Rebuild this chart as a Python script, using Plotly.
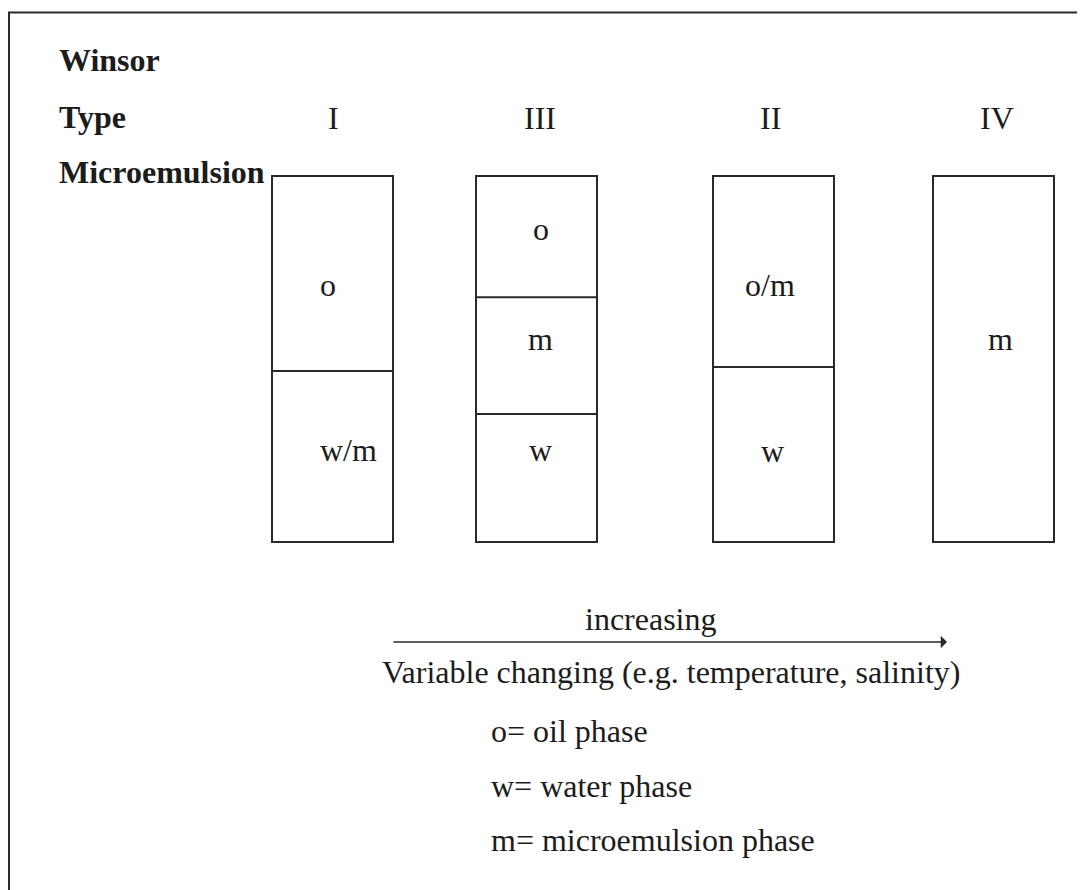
import plotly.graph_objects as go

# ---------------- data ----------------
winsor_types = ["I", "III", "II", "IV"]
row_labels = ["Winsor", "Type", "Microemulsion"]
# phases listed top -> bottom for each tube
phase_labels = [["o", "w/m"], ["o", "m", "w"], ["o/m", "w"], ["m"]]
# interface levels, fraction of tube height measured from the bottom
interface_levels = [[0.467], [0.669, 0.350], [0.478], []]
# label levels (fraction of tube height from bottom), top -> bottom
label_levels = [[0.694, 0.243], [0.847, 0.544, 0.243], [0.694, 0.238], [0.544]]
# label horizontal position, fraction of tube width
label_xfrac = [[0.459, 0.631], [0.537, 0.537, 0.537], [0.475, 0.49], [0.554]]
arrow_top_text = "increasing"
arrow_bottom_text = "Variable changing (e.g. temperature, salinity)"
legend_lines = ["o= oil phase", "w= water phase", "m= microemulsion phase"]

# ---------------- layout constants (page pixels) ----------------
W, H = 1085, 890
PAGE_MARGIN = 8  # default body margin of the html page
tube_left = [272, 476, 713, 933]
tube_width = 121
tube_top, tube_bottom = 176, 542
tube_h = tube_bottom - tube_top
type_label_x = [333, 540, 770, 997]
FONT = "Liberation Serif, Times New Roman, serif"
FS = 32
INK = "#1c1c1c"
LINE = "#2a2a2a"

fig = go.Figure()
fig.add_trace(go.Scatter(x=[PAGE_MARGIN, W], y=[PAGE_MARGIN, H], mode="markers",
                         marker=dict(opacity=0), hoverinfo="skip", showlegend=False))

shapes = []
annotations = []

# outer frame (left and top edges)
shapes.append(dict(type="path", path=f"M 9 {H + 5} L 9 12.5 L 1090 12.5",
                   xref="x", yref="y", line=dict(color=LINE, width=2)))

# row labels
for lab, yy in zip(row_labels, [60, 117, 172]):
    annotations.append(dict(x=57, y=yy, xref="x", yref="y", text=f"<b>{lab}</b>",
                            showarrow=False, xanchor="left", yanchor="middle",
                            font=dict(family=FONT, size=FS, color=INK)))

# type labels
for t, xx in zip(winsor_types, type_label_x):
    annotations.append(dict(x=xx, y=118, xref="x", yref="y", text=t, showarrow=False,
                            xanchor="center", yanchor="middle",
                            font=dict(family=FONT, size=FS, color=INK)))

# tubes
for i, left in enumerate(tube_left):
    right = left + tube_width
    shapes.append(dict(type="rect", x0=left, x1=right, y0=tube_top, y1=tube_bottom,
                       xref="x", yref="y", line=dict(color=LINE, width=2)))
    for lev in interface_levels[i]:
        yy = tube_bottom - lev * tube_h
        shapes.append(dict(type="line", x0=left, x1=right, y0=yy, y1=yy,
                           xref="x", yref="y", line=dict(color=LINE, width=2)))
    for lab, lev, xf in zip(phase_labels[i], label_levels[i], label_xfrac[i]):
        annotations.append(dict(x=left + xf * tube_width, y=tube_bottom - lev * tube_h,
                                xref="x", yref="y", text=lab, showarrow=False,
                                xanchor="center", yanchor="middle", yshift=3.5,
                                font=dict(family=FONT, size=FS, color=INK)))

# arrow
annotations.append(dict(x=947, y=642, ax=392, ay=642, xref="x", yref="y",
                        axref="x", ayref="y", text="", showarrow=True,
                        arrowhead=1, arrowsize=1.3, arrowwidth=1.6, arrowcolor=LINE))
annotations.append(dict(x=651, y=622, xref="x", yref="y", text=arrow_top_text,
                        showarrow=False, xanchor="center", yanchor="middle", yshift=3.5,
                        font=dict(family=FONT, size=FS, color=INK)))
annotations.append(dict(x=671, y=675, xref="x", yref="y", text=arrow_bottom_text,
                        showarrow=False, xanchor="center", yanchor="middle", yshift=3.5,
                        font=dict(family=FONT, size=FS, color=INK)))

# legend lines
for txt, yy in zip(legend_lines, [734, 789, 843]):
    annotations.append(dict(x=489, y=yy, xref="x", yref="y", text=txt, showarrow=False,
                            xanchor="left", yanchor="middle", yshift=3.5,
                            font=dict(family=FONT, size=FS, color=INK)))

fig.update_layout(
    width=W - PAGE_MARGIN, height=H - PAGE_MARGIN,
    margin=dict(l=0, r=0, t=0, b=0),
    paper_bgcolor="white", plot_bgcolor="white",
    xaxis=dict(range=[PAGE_MARGIN, W], visible=False, fixedrange=True),
    yaxis=dict(range=[H, PAGE_MARGIN], visible=False, fixedrange=True),
    shapes=shapes, annotations=annotations, showlegend=False,
)

fig.write_html("out.html", config={"displayModeBar": False})
